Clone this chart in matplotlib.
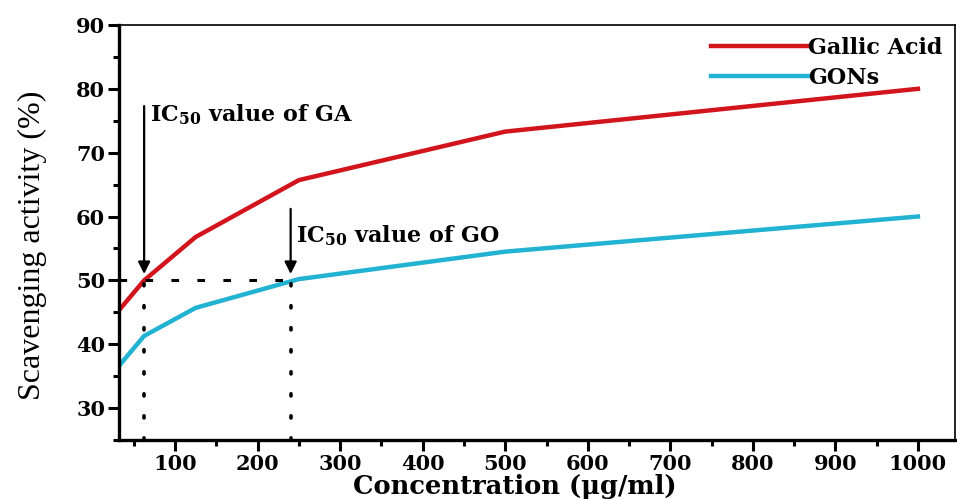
import matplotlib
matplotlib.use("Agg")
import matplotlib.pyplot as plt
from matplotlib.ticker import MultipleLocator

conc = [31.25, 62.5, 125, 250, 500, 1000]
gallic_acid = [45.2, 50.0, 56.8, 65.7, 73.3, 80.0]
gons = [36.5, 41.3, 45.7, 50.2, 54.5, 60.0]
ic50_ga = 62.5
ic50_go = 240
ic50_level = 50

red = "#d2141c"
cyan = "#22b2d2"

plt.rcParams["mathtext.fontset"] = "dejavuserif"

fig = plt.figure(figsize=(9.57, 4.99), dpi=100)
ax = fig.add_axes([0.1243, 0.1182, 0.8737, 0.8318])

bold_serif = ["DejaVu Serif"]
thin_serif = ["Liberation Serif", "DejaVu Serif"]

ax.plot(conc, gallic_acid, color=red, lw=3.2, label="Gallic Acid", solid_joinstyle="round")
ax.plot(conc, gons, color=cyan, lw=3.2, label="GONs", solid_joinstyle="round")

ax.set_xlim(32, 1045)
ax.set_ylim(25, 90)

# IC50 guides
ax.plot([32, ic50_go], [ic50_level, ic50_level], color="black", lw=2.2,
        linestyle=(0, (2.5, 6)))
for xv in (ic50_ga, ic50_go):
    ax.plot([xv, xv], [25, ic50_level], color="black", lw=2.6,
            linestyle=(0, (0.6, 5.5)), dash_capstyle="round")

# arrows
ax.annotate("", xy=(ic50_ga, 51), xytext=(ic50_ga, 77.3),
            arrowprops=dict(arrowstyle="-|>", color="black", lw=1.6,
                            mutation_scale=18, shrinkA=0, shrinkB=0))
ax.annotate("", xy=(ic50_go, 51), xytext=(ic50_go, 61.2),
            arrowprops=dict(arrowstyle="-|>", color="black", lw=1.6,
                            mutation_scale=18, shrinkA=0, shrinkB=0))

ax.text(70, 76.0, r"$\mathbf{IC_{50}}$ value of GA", fontsize=16, fontweight="bold",
        family=bold_serif, va="center", ha="left")
ax.text(246, 57.0, r"$\mathbf{IC_{50}}$ value of GO", fontsize=16, fontweight="bold",
        family=bold_serif, va="center", ha="left")

ax.set_xticks(range(100, 1001, 100))
ax.set_yticks(range(30, 91, 10))
ax.xaxis.set_minor_locator(MultipleLocator(50))
ax.yaxis.set_minor_locator(MultipleLocator(5))

ax.tick_params(axis="both", which="major", direction="out", length=8, width=2.2,
               labelsize=15, pad=2)
ax.tick_params(axis="both", which="minor", direction="out", length=4, width=2.2)
for lab in ax.get_xticklabels() + ax.get_yticklabels():
    lab.set_fontweight("bold")
    lab.set_family(bold_serif)

for s in ("left", "bottom"):
    ax.spines[s].set_linewidth(2.4)
for s in ("top", "right"):
    ax.spines[s].set_linewidth(1.2)

ax.set_xlabel("Concentration (μg/ml)", fontsize=18.5, fontweight="bold",
              family=bold_serif, labelpad=0, x=0.474)
ax.set_ylabel("Scavenging activity (%)", fontsize=23, family=thin_serif)
ax.yaxis.set_label_coords(-0.086, 0.47)

leg = ax.legend(loc="upper right", frameon=False,
                prop=dict(family=bold_serif, size=16, weight="bold"),
                handlelength=4.4, handletextpad=0.0, borderaxespad=0.15,
                labelspacing=0.35, bbox_to_anchor=(1.0, 1.0))

fig.savefig("out.png", dpi=100)
